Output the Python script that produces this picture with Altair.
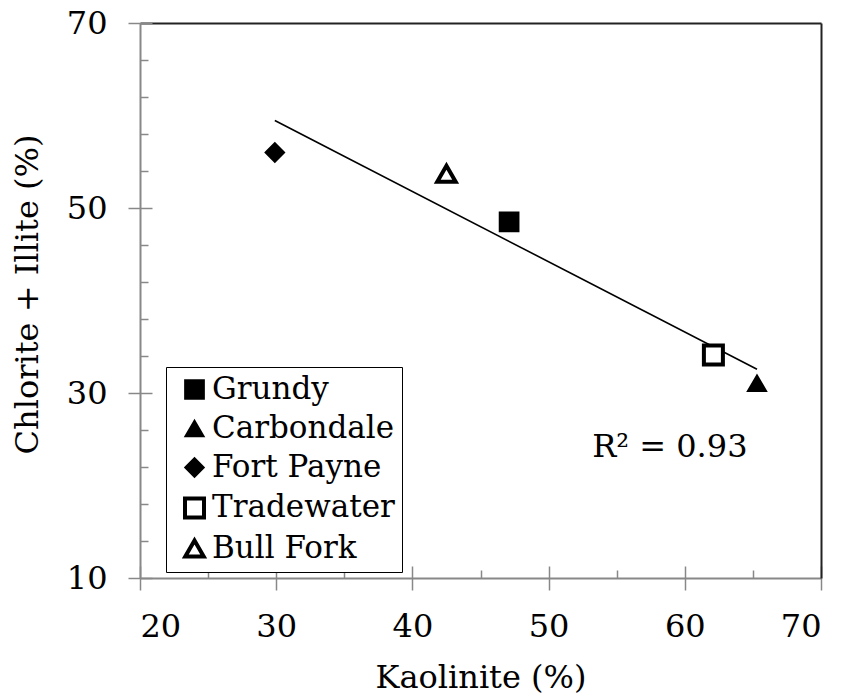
import altair as alt
import pandas as pd

# ---- data ----
series = ["Grundy", "Carbondale", "Fort Payne", "Tradewater", "Bull Fork"]
kaolinite = [47.1, 65.3, 29.9, 62.1, 42.5]
chlorite_illite = [48.5, 31.0, 56.0, 34.1, 53.7]

shapes = ["square", "triangle-up", "diamond", "square", "triangle-up"]
fills = ["black", "black", "black", "white", "white"]
strokes = ["black", "black", "black", "black", "black"]
sizes = [280, 215, 245, 361, 340]

x_major = [20, 30, 40, 50, 60, 70]
x_minor = [25, 35, 45, 55, 65]
y_major = [10, 30, 50, 70]
y_minor = [14, 18, 22, 26, 34, 38, 42, 46, 54, 58, 62, 66]

r2_label = ["R² = 0.93"]
r2_x = [58.9]
r2_y = [24.2]

df = pd.DataFrame({"series": series, "kaolinite": kaolinite, "chlorite_illite": chlorite_illite})
df_text = pd.DataFrame({"label": r2_label, "kaolinite": r2_x, "chlorite_illite": r2_y})

FONT = "DejaVu Serif"
FS = 32
GRAY = "#888888"

xscale = alt.Scale(domain=[20, 70], nice=False, zero=False)
yscale = alt.Scale(domain=[10, 70], nice=False, zero=False)

x_main = alt.Axis(orient="bottom", values=x_major, format="d", domainColor=GRAY, domainWidth=2,
                  tickColor=GRAY, tickWidth=1.5, tickSize=12, labelPadding=21,
                  labelFont=FONT, labelFontSize=FS, labelColor="black",
                  title="Kaolinite (%)", titleFont=FONT, titleFontSize=FS, titleFontWeight="normal",
                  titleColor="black", titlePadding=20, grid=False)
y_main = alt.Axis(orient="left", values=y_major, format="d", domainColor=GRAY, domainWidth=2,
                  tickColor=GRAY, tickWidth=1.5, tickSize=12, labelPadding=21,
                  labelFont=FONT, labelFontSize=FS, labelColor="black",
                  title="Chlorite + Illite (%)", titleFont=FONT, titleFontSize=FS, titleFontWeight="normal",
                  titleColor="black", titlePadding=22, titleY=271, grid=False)

x_in_major = alt.Axis(orient="bottom", values=x_major, offset=-12, tickSize=12, tickColor=GRAY, tickWidth=1.5,
                      domain=False, labels=False, title=None, grid=False)
y_in_major = alt.Axis(orient="left", values=y_major, offset=-12, tickSize=12, tickColor=GRAY, tickWidth=1.5,
                      domain=False, labels=False, title=None, grid=False)
x_in_minor = alt.Axis(orient="bottom", values=x_minor, offset=-8, tickSize=8, tickColor=GRAY, tickWidth=1.5,
                      domain=False, labels=False, title=None, grid=False)
y_in_minor = alt.Axis(orient="left", values=y_minor, offset=-8, tickSize=8, tickColor=GRAY, tickWidth=1.5,
                      domain=False, labels=False, title=None, grid=False)
x_top = alt.Axis(orient="top", domainColor="#222222", domainWidth=2, ticks=False, labels=False,
                 title=None, grid=False)
y_right = alt.Axis(orient="right", domainColor="#222222", domainWidth=2, ticks=False, labels=False,
                   title=None, grid=False)

frame = alt.Chart(df).mark_point(opacity=0).encode(
    x=alt.X("kaolinite:Q", scale=xscale, axis=x_top),
    y=alt.Y("chlorite_illite:Q", scale=yscale, axis=y_right),
)

trend = alt.Chart(df).transform_regression("kaolinite", "chlorite_illite").mark_line(
    color="black", strokeWidth=1.6
).encode(
    x=alt.X("kaolinite:Q", scale=xscale, axis=x_in_major),
    y=alt.Y("chlorite_illite:Q", scale=yscale, axis=y_in_major),
)

r2 = alt.Chart(df_text).mark_text(font=FONT, fontSize=FS, color="black", align="center", baseline="middle").encode(
    x=alt.X("kaolinite:Q", scale=xscale, axis=x_in_minor),
    y=alt.Y("chlorite_illite:Q", scale=yscale, axis=y_in_minor),
    text="label:N",
)

legend = alt.Legend(orient="none", legendX=26, legendY=344, title=None, strokeColor="black",
                    fillColor="white", padding=7, rowPadding=6.5, labelFont=FONT, labelFontSize=31,
                    labelColor="black", labelOffset=2, symbolOffset=6, symbolStrokeWidth=4,
                    labelLimit=400)

points = alt.Chart(df).mark_point(filled=True, opacity=1, strokeWidth=4).encode(
    x=alt.X("kaolinite:Q", scale=xscale, axis=x_main),
    y=alt.Y("chlorite_illite:Q", scale=yscale, axis=y_main),
    shape=alt.Shape("series:N", scale=alt.Scale(domain=series, range=shapes), legend=legend),
    fill=alt.Fill("series:N", scale=alt.Scale(domain=series, range=fills), legend=legend),
    stroke=alt.Stroke("series:N", scale=alt.Scale(domain=series, range=strokes), legend=legend),
    size=alt.Size("series:N", scale=alt.Scale(type="ordinal", domain=series, range=sizes), legend=legend),
)

chart = alt.layer(frame, trend, r2, points).resolve_axis(
    x="independent", y="independent"
).properties(
    width=681, height=555,
    autosize=alt.AutoSizeParams(type="none"),
    padding={"left": 132, "top": 15, "right": 17, "bottom": 125},
    background="white",
).configure_view(stroke=None)

chart.save("out.html", embed_options={"renderer": "svg", "actions": False})
